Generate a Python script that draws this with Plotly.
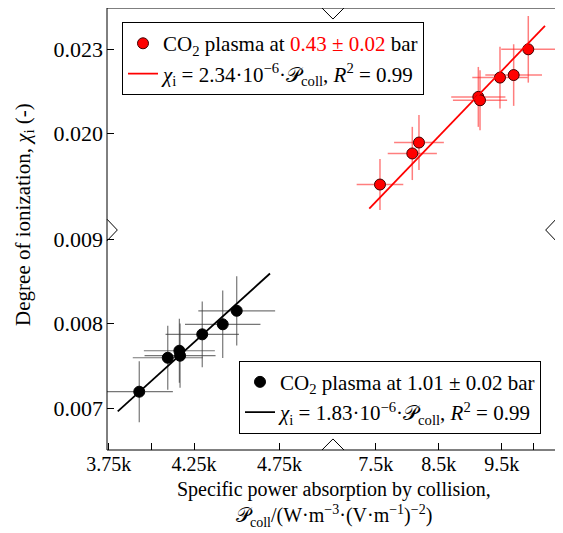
import plotly.graph_objects as go

# ---------------- data ----------------
# CO2 plasma at 1.01 bar (black)
p_coll_1bar = [3929, 4096, 4164, 4168, 4298, 4418, 4500]
chi_1bar = [0.007193, 0.007595, 0.007678, 0.007619, 0.007872, 0.007991, 0.008151]
p_err_1bar = [197, 205, 208, 208, 215, 221, 225]
chi_err_1bar = [0.00036, 0.00038, 0.00038, 0.00038, 0.00039, 0.00040, 0.00041]
fit_x_1bar = [3803, 4695]
slope_1bar = 1.83e-6

# CO2 plasma at 0.43 bar (red)
p_coll_043 = [7568, 8081, 8187, 9129, 9156, 9473, 9690, 9922]
chi_043 = [0.01817, 0.01928, 0.01967, 0.02130, 0.02118, 0.02199, 0.02208, 0.02300]
p_err_043 = [370, 390, 395, 430, 430, 440, 450, 430]
chi_err_043 = [0.00091, 0.00095, 0.00098, 0.00107, 0.00107, 0.00110, 0.00110, 0.00119]
fit_x_043 = [7398, 10187]
slope_043 = 2.34e-6

x_left_ticks = [3750, 4000, 4250, 4750]
x_left_labels = ["3.75k", "", "4.25k", "4.75k"]
x_right_ticks = [7500, 8500, 9500, 10000]
x_right_labels = ["7.5k", "8.5k", "9.5k", ""]
y_low_ticks = [0.007, 0.008, 0.009]
y_low_labels = ["0.007", "0.008", "0.009"]
y_up_ticks = [0.020, 0.023]
y_up_labels = ["0.020", "0.023"]

FONT = "Liberation Serif"
P = "\U0001D4AB"

fig = go.Figure()

fig.add_trace(go.Scatter(
    x=p_coll_043, y=chi_043, mode="markers", xaxis="x2", yaxis="y2",
    name="CO<sub>2</sub> plasma at <span style='color:#ff0000'>0.43 ± 0.02</span> bar",
    marker=dict(color="#ff0000", size=11, line=dict(color="#400000", width=1)),
    error_x=dict(type="data", array=p_err_043, color="rgba(255,40,40,0.6)", thickness=1.5, width=0),
    error_y=dict(type="data", array=chi_err_043, color="rgba(255,40,40,0.6)", thickness=1.5, width=0),
    legend="legend"))
fig.add_trace(go.Scatter(
    x=fit_x_043, y=[slope_043 * v for v in fit_x_043], mode="lines", xaxis="x2", yaxis="y2",
    name=f"<i>χ</i><sub>i</sub> = 2.34·10<sup>−6</sup>·{P}<sub>coll</sub>, <i>R</i><sup>2</sup> = 0.99",
    line=dict(color="#ff0000", width=1.8), legend="legend"))

fig.add_trace(go.Scatter(
    x=p_coll_1bar, y=chi_1bar, mode="markers", xaxis="x", yaxis="y",
    name="CO<sub>2</sub> plasma at 1.01 ± 0.02 bar",
    marker=dict(color="#000000", size=11, line=dict(color="#000000", width=1)),
    error_x=dict(type="data", array=p_err_1bar, color="rgba(60,60,60,0.7)", thickness=1.2, width=0),
    error_y=dict(type="data", array=chi_err_1bar, color="rgba(60,60,60,0.7)", thickness=1.2, width=0),
    legend="legend2"))
fig.add_trace(go.Scatter(
    x=fit_x_1bar, y=[slope_1bar * v for v in fit_x_1bar], mode="lines", xaxis="x", yaxis="y",
    name=f"<i>χ</i><sub>i</sub> = 1.83·10<sup>−6</sup>·{P}<sub>coll</sub>, <i>R</i><sup>2</sup> = 0.99",
    line=dict(color="#000000", width=1.8), legend="legend2"))

XB = 0.5033   # x break (paper)
YB = 0.4977   # y break (paper)

axis_common = dict(ticks="inside", ticklen=7, tickcolor="black", tickwidth=1,
                   showgrid=False, zeroline=False, showline=False, automargin=False)
xfont = dict(family=FONT, size=20, color="black")
yfont = dict(family=FONT, size=22, color="black")

xr_left = [3740, 5064]
xr_right = [6822, 10362]
yr_low = [0.006503, 0.009107]
yr_up = [0.016546, 0.024475]

# the page body adds an 8 px offset; figure sized to fit the 563x533 window
fig.update_layout(
    width=555, height=525,
    margin=dict(l=99, r=7, t=0, b=83, autoexpand=False),
    paper_bgcolor="white", plot_bgcolor="white",
    font=dict(family=FONT, color="black"),
    xaxis=dict(domain=[0, XB], range=xr_left, tickvals=x_left_ticks, ticktext=x_left_labels,
               anchor="y", ticklabelstandoff=0, tickfont=xfont, **axis_common),
    xaxis2=dict(domain=[XB, 1], range=xr_right, tickvals=x_right_ticks, ticktext=x_right_labels,
                anchor="y", ticklabelstandoff=0, tickfont=xfont, **axis_common),
    xaxis3=dict(overlaying="x", side="top", anchor="free", position=1, range=xr_left,
                tickvals=x_left_ticks, showticklabels=False, **axis_common),
    xaxis4=dict(overlaying="x2", side="top", anchor="free", position=1, range=xr_right,
                tickvals=x_right_ticks, showticklabels=False, **axis_common),
    yaxis=dict(domain=[0, YB], range=yr_low, tickvals=y_low_ticks, ticktext=y_low_labels,
               anchor="x", ticklabelstandoff=3, tickfont=yfont, **axis_common),
    yaxis2=dict(domain=[YB, 1], range=yr_up, tickvals=y_up_ticks, ticktext=y_up_labels,
                anchor="x", ticklabelstandoff=3, tickfont=yfont, **axis_common),
    yaxis3=dict(overlaying="y", side="right", anchor="free", position=1, range=yr_low,
                tickvals=y_low_ticks, showticklabels=False, **axis_common),
    yaxis4=dict(overlaying="y2", side="right", anchor="free", position=1, range=yr_up,
                tickvals=y_up_ticks, showticklabels=False, **axis_common),
    legend=dict(x=0.0334, y=0.968, xanchor="left", yanchor="top",
                bordercolor="black", borderwidth=1, bgcolor="white",
                font=dict(family=FONT, size=21, color="black"), tracegroupgap=0),
    legend2=dict(x=0.294, y=0.202, xanchor="left", yanchor="top",
                 bordercolor="black", borderwidth=1, bgcolor="white",
                 font=dict(family=FONT, size=21, color="black"), tracegroupgap=0),
    showlegend=True,
)

# frame
shapes = [dict(type="rect", xref="paper", yref="paper", x0=0, x1=1, y0=0, y1=1,
               line=dict(color="black", width=1), fillcolor="rgba(0,0,0,0)")]
# axis-break chevrons
cw, chy = 0.0245, 0.025
cwy, chx = 0.0245, 0.023
chev = [
    f"M {XB-cw},1 L {XB},{1-chy} L {XB+cw},1",
    f"M {XB-cw},0 L {XB},{chy} L {XB+cw},0",
    f"M 0,{YB+cwy} L {chx},{YB} L 0,{YB-cwy}",
    f"M 1,{YB+cwy} L {1-chx},{YB} L 1,{YB-cwy}",
]
for pth in chev:
    shapes.append(dict(type="path", xref="paper", yref="paper", path=pth,
                       line=dict(color="black", width=1)))
fig.update_layout(shapes=shapes)

fig.add_annotation(xref="paper", yref="paper", x=-0.185, y=0.534, textangle=-90,
                   text="Degree of ionization, <i>χ</i><sub>i</sub> (-)", showarrow=False,
                   font=dict(family=FONT, size=21, color="black"), xanchor="center", yanchor="middle")
fig.add_annotation(xref="paper", yref="paper", x=0.505, y=-0.090, yanchor="middle",
                   text="Specific power absorption by collision,",
                   showarrow=False, font=dict(family=FONT, size=20, color="black"))
fig.add_annotation(xref="paper", yref="paper", x=0.505, y=-0.186, yanchor="bottom",
                   text=f"{P}<sub>coll</sub>/(W·m<sup>−3</sup>·(V·m<sup>−1</sup>)<sup>−2</sup>)",
                   showarrow=False, font=dict(family=FONT, size=20, color="black"))

fig.write_html("out.html")
